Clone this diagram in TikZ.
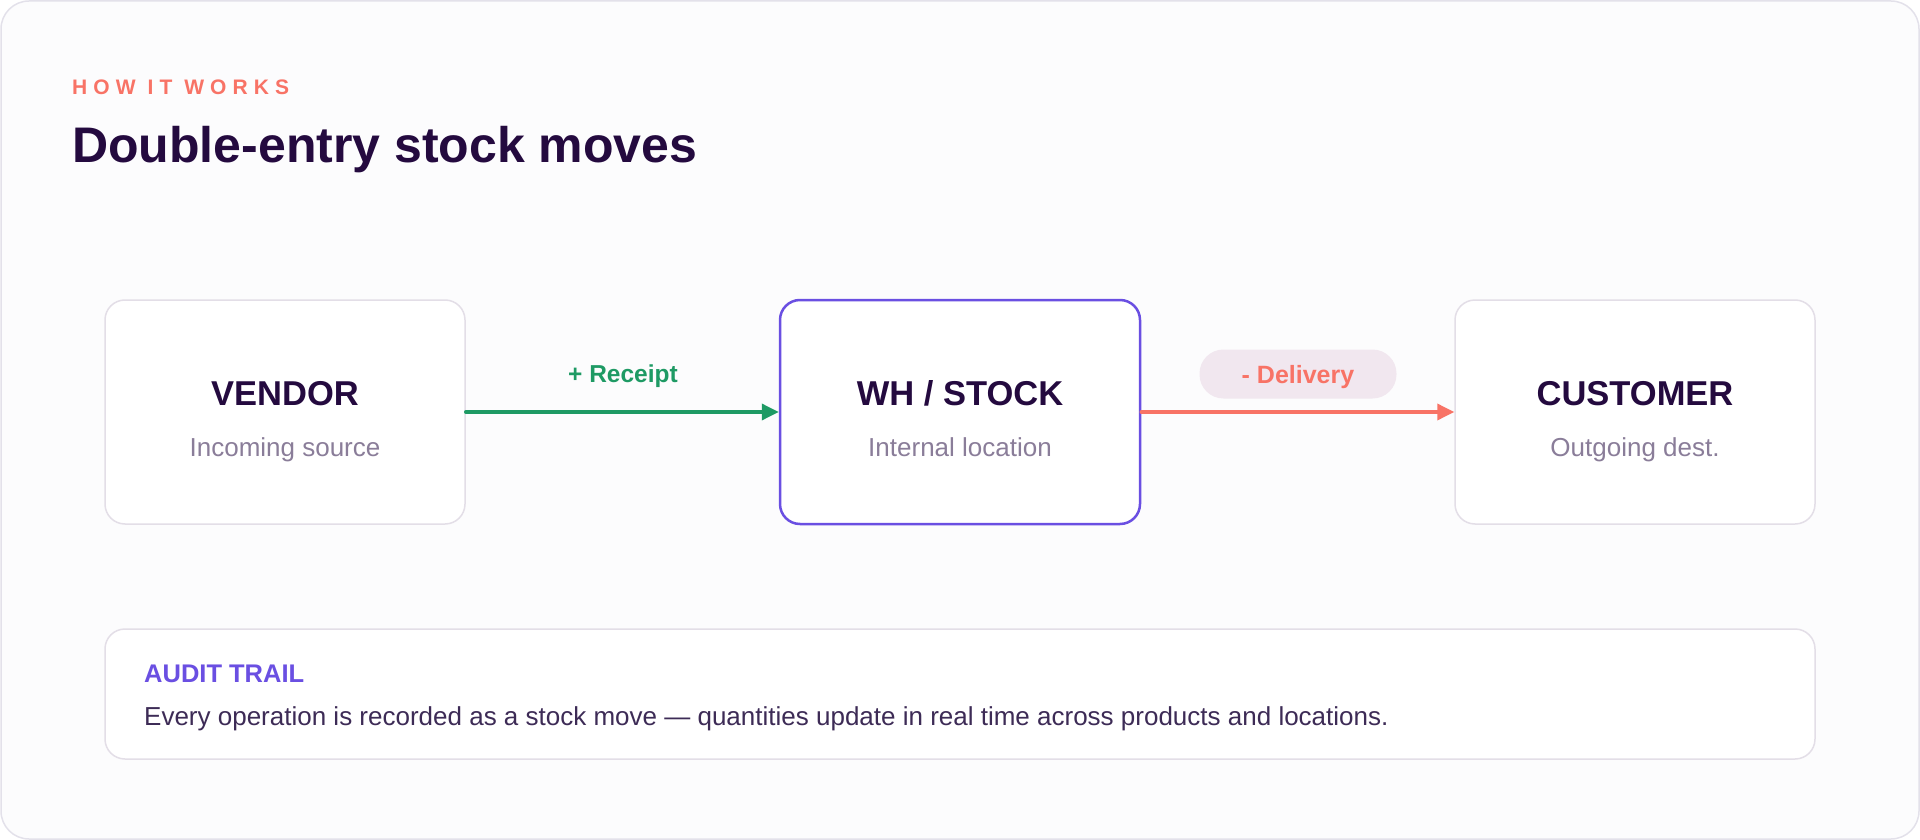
\documentclass[tikz,border=0pt]{standalone}
\usepackage{fontspec}
\setmainfont{Liberation Sans}
\usepackage{xcolor}
\usepackage{tikz}
\usetikzlibrary{positioning,arrows.meta}
\definecolor{pagebg}{HTML}{FCFCFD}
\definecolor{frameline}{HTML}{E3E1EA}
\definecolor{cardline}{HTML}{E3DEE7}
\definecolor{inkdark}{HTML}{240A3F}
\definecolor{inksoft}{HTML}{8A7D99}
\definecolor{inkbody}{HTML}{3D2B56}
\definecolor{coral}{HTML}{F87366}
\definecolor{leaf}{HTML}{1E9A64}
\definecolor{violet}{HTML}{6A4FE2}
\definecolor{pillbg}{HTML}{F1E7EF}

\begin{document}
\begin{tikzpicture}[
  x=1pt, y=-1pt,
  card/.style={draw=cardline, line width=1.5pt, rounded corners=20pt, fill=white,
    minimum width=360pt, minimum height=224pt, inner sep=0pt},
  cardname/.style={anchor=base, text=inkdark, font=\fontsize{34.5}{40}\selectfont\bfseries},
  cardsub/.style={anchor=base, text=inksoft, font=\fontsize{26}{30}\selectfont},
  move/.style={line width=3.5pt, line cap=round, -{Triangle[length=17pt,width=16pt]}},
  movelbl/.style={anchor=base, font=\fontsize{24.5}{28}\selectfont\bfseries}
]
% page
\useasboundingbox (0,0) rectangle (1920,840);
\draw[frameline, fill=pagebg, line width=1.5pt, rounded corners=28pt] (1,1) rectangle (1919,839);

% heading
\node[anchor=base west, inner sep=0pt, text=coral,
  font=\fontsize{21}{24}\selectfont\bfseries\addfontfeature{LetterSpace=29}] (kicker) at (72,95) {HOW IT WORKS};
\node[anchor=base west, inner sep=0pt, text=inkdark,
  font=\fontsize{50}{58}\selectfont\bfseries] (title) at (72,163) {Double-entry stock moves};

% locations
\node[card] (vendor) at (285,412) {};
\node[card, draw=violet, line width=2.5pt] (stock) at (960,412) {};
\node[card] (customer) at (1635,412) {};

\node[cardname] (vendor-n) at (285,405) {VENDOR};
\node[cardsub] (vendor-s) at (285,456) {Incoming source};
\node[cardname] (stock-n) at (960,405) {WH / STOCK};
\node[cardsub] (stock-s) at (960,456) {Internal location};
\node[cardname] (customer-n) at (1635,405) {CUSTOMER};
\node[cardsub] (customer-s) at (1635,456) {Outgoing dest.};

% moves
\draw[move, leaf] (vendor) -- (stock);
\draw[move, coral] (stock) -- (customer);
\node[movelbl, text=leaf] (receipt) at (623,382) {+ Receipt};
\node[fill=pillbg, rounded corners=24pt, minimum width=197pt, minimum height=49pt,
  text height=18pt, text depth=0pt,
  text=coral, font=\fontsize{25}{28}\selectfont\bfseries] (delivery) at (1298,374) {- Delivery};

% audit note
\node[card, minimum width=1710pt, minimum height=130pt] (audit) at (960,694) {};
\node[anchor=base west, inner sep=0pt, text=violet, font=\fontsize{25.5}{30}\selectfont\bfseries] (audit-t) at (144,682) {AUDIT TRAIL};
\node[anchor=base west, inner sep=0pt, text=inkbody, font=\fontsize{26}{30}\selectfont] (audit-b) at (144,725)
  {Every operation is recorded as a stock move — quantities update in real time across products and locations.};
\end{tikzpicture}
\end{document}
